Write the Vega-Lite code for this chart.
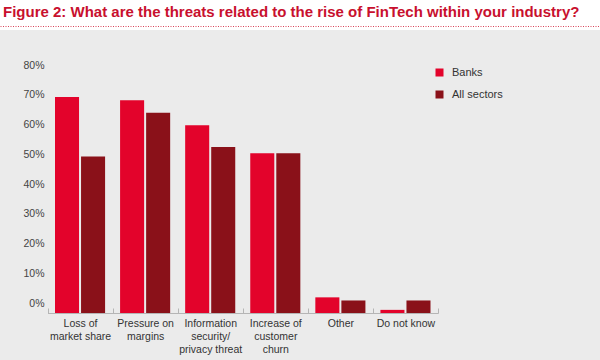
{
  "$schema": "https://vega.github.io/schema/vega-lite/v6.json",
  "width": 600,
  "height": 330,
  "autosize": {"type": "none"},
  "padding": {"top": 30, "left": 0, "right": 0, "bottom": 0},
  "background": "#ffffff",
  "config": {
    "view": {"fill": "#ebebeb", "stroke": null},
    "font": "Liberation Sans"
  },
  "title": {
    "text": "Figure 2: What are the threats related to the rise of FinTech within your industry?",
    "anchor": "start",
    "frame": "group",
    "font": "Liberation Sans",
    "fontSize": 15,
    "fontWeight": "bold",
    "color": "#c8102e",
    "dx": 3,
    "offset": 6
  },
  "data": {
    "values": [
      {"category": "Loss of market share", "series": "Banks", "value": 69},
      {"category": "Loss of market share", "series": "All sectors", "value": 50},
      {"category": "Pressure on margins", "series": "Banks", "value": 68},
      {"category": "Pressure on margins", "series": "All sectors", "value": 64},
      {"category": "Information security/privacy threat", "series": "Banks", "value": 60},
      {"category": "Information security/privacy threat", "series": "All sectors", "value": 53},
      {"category": "Increase of customer churn", "series": "Banks", "value": 51},
      {"category": "Increase of customer churn", "series": "All sectors", "value": 51},
      {"category": "Other", "series": "Banks", "value": 5},
      {"category": "Other", "series": "All sectors", "value": 4},
      {"category": "Do not know", "series": "Banks", "value": 1},
      {"category": "Do not know", "series": "All sectors", "value": 4}
    ]
  },
  "layer": [
    {
      "mark": {"type": "bar"},
      "encoding": {
        "x": {
          "field": "category",
          "type": "nominal",
          "sort": null,
          "scale": {"range": [47.5, 438], "paddingInner": 0, "paddingOuter": 0},
          "axis": {
            "orient": "bottom",
            "title": null,
            "offset": -47,
            "domainColor": "#b5b5b5",
            "tickColor": "#b5b5b5",
            "tickBand": "extent",
            "tickSize": -5,
            "labelAngle": 0,
            "labelPadding": 10.5,
            "labelFontSize": 10.5,
            "labelColor": "#333333",
            "labelLineHeight": 13,
            "labelOverlap": false,
            "labelFlush": false,
            "labelExpr": "datum.value == 'Loss of market share' ? ['Loss of', 'market share'] : datum.value == 'Pressure on margins' ? ['Pressure on', 'margins'] : datum.value == 'Information security/privacy threat' ? ['Information', 'security/', 'privacy threat'] : datum.value == 'Increase of customer churn' ? ['Increase of', 'customer', 'churn'] : datum.value"
          }
        },
        "xOffset": {
          "field": "series",
          "type": "nominal",
          "sort": ["Banks", "All sectors"],
          "scale": {"paddingInner": 0.077, "paddingOuter": 0.288}
        },
        "y": {
          "field": "value",
          "type": "quantitative",
          "scale": {"domain": [0, 80], "range": [283, 32.6], "nice": false},
          "axis": null
        },
        "color": {
          "field": "series",
          "type": "nominal",
          "sort": ["Banks", "All sectors"],
          "scale": {"domain": ["Banks", "All sectors"], "range": ["#e3032b", "#8a1119"]},
          "legend": {
            "title": null,
            "orient": "none",
            "legendX": 434,
            "legendY": 37,
            "padding": 0,
            "symbolType": "square",
            "symbolSize": 64,
            "symbolStrokeWidth": 0,
            "labelFontSize": 11,
            "labelColor": "#333333",
            "labelOffset": 7,
            "rowPadding": 10
          }
        }
      }
    },
    {
      "mark": {"type": "point", "opacity": 0},
      "encoding": {
        "x": {
          "field": "category",
          "type": "nominal",
          "sort": null,
          "axis": {
            "orient": "top",
            "title": null,
            "offset": 4,
            "labels": false,
            "ticks": false,
            "domainColor": "#d9455a",
            "domainDash": [1, 1.5],
            "domainWidth": 1.2
          }
        },
        "y": {
          "field": "value",
          "type": "quantitative",
          "scale": {"domain": [0, 80], "range": [273, 35], "nice": false},
          "axis": {
            "orient": "left",
            "title": null,
            "offset": -47,
            "values": [0, 10, 20, 30, 40, 50, 60, 70, 80],
            "format": ".0f",
            "labelExpr": "datum.label + '%'",
            "domain": false,
            "ticks": false,
            "grid": false,
            "labelPadding": 3,
            "labelFontSize": 10.5,
            "labelColor": "#444444"
          }
        }
      }
    }
  ],
  "resolve": {
    "scale": {"x": "independent", "y": "independent"},
    "axis": {"x": "independent", "y": "independent"}
  }
}
